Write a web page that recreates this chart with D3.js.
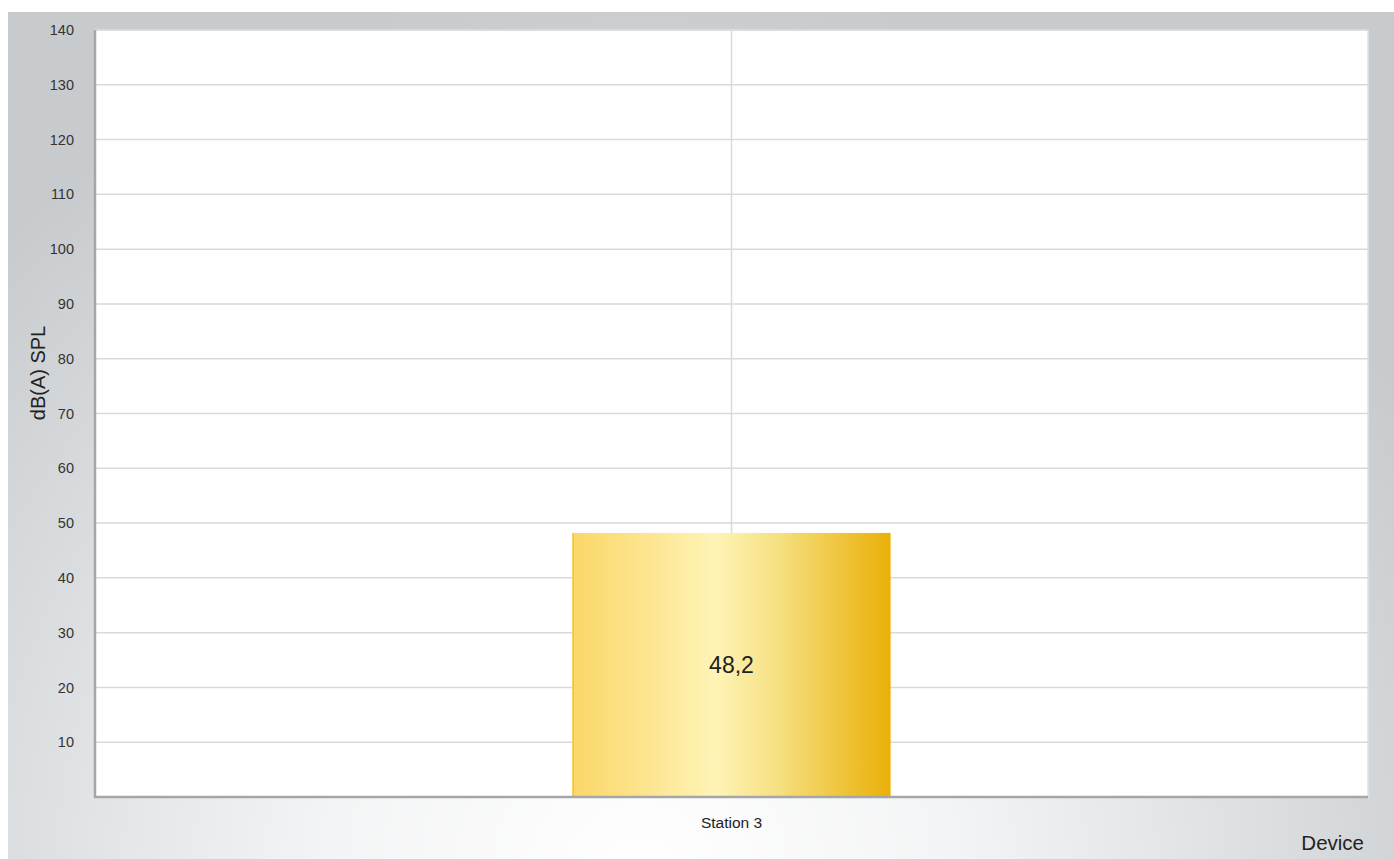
<!DOCTYPE html>
<html><head><meta charset="utf-8">
<script src="https://cdn.jsdelivr.net/npm/d3@7"></script>
<style>html,body{margin:0;padding:0;background:#fff;}svg{display:block;font-family:"Liberation Sans",Arial,sans-serif;}</style>
</head><body><svg id="c" width="1394" height="859"></svg>
<script>
const categories = ["Station 3"];
const values = [48.2];
const yTicks = [10,20,30,40,50,60,70,80,90,100,110,120,130,140];
const yTitle = "dB(A) SPL";
const xTitle = "Device";

const svg = d3.select("#c");
const defs = svg.append("defs");
const bg = defs.append("radialGradient").attr("id","bg").attr("gradientUnits","userSpaceOnUse")
  .attr("cx",640).attr("cy",880).attr("r",900).attr("fx",640).attr("fy",880);
bg.append("stop").attr("offset","0").attr("stop-color","#ffffff");
bg.append("stop").attr("offset","0.35").attr("stop-color","#f3f4f5");
bg.append("stop").attr("offset","0.75").attr("stop-color","#d8dbdd");
bg.append("stop").attr("offset","1").attr("stop-color","#c8cbce");
const bar = defs.append("linearGradient").attr("id","bar").attr("x1","0").attr("x2","1").attr("y1","0").attr("y2","0");
[[0,"#fbd768"],[0.2,"#fce28a"],[0.45,"#fef4b6"],[0.65,"#f5df80"],[0.85,"#efc43a"],[1,"#e9b008"]]
  .forEach(([o,c])=>bar.append("stop").attr("offset",o).attr("stop-color",c));

svg.append("rect").attr("x",8).attr("y",12).attr("width",1386).attr("height",847).attr("fill","url(#bg)");

const L=95, R=1368, T=30, B=797;
const y = d3.scaleLinear().domain([0,140]).range([B,T]);
const x = d3.scaleBand().domain(categories).range([L,R]).paddingInner(0).paddingOuter(1.5);

svg.append("rect").attr("x",L).attr("y",T).attr("width",R-L).attr("height",B-T)
  .attr("fill","#ffffff").attr("stroke","#e2e2e2").attr("stroke-width",1.5);

// horizontal gridlines
svg.append("g").selectAll("line").data(yTicks).join("line")
  .attr("x1",L).attr("x2",R).attr("y1",d=>y(d)).attr("y2",d=>y(d))
  .attr("stroke","#d9d9d9").attr("stroke-width",1.5);
// category gridline
svg.append("g").selectAll("line").data(categories).join("line")
  .attr("x1",d=>x(d)+x.bandwidth()/2).attr("x2",d=>x(d)+x.bandwidth()/2)
  .attr("y1",T).attr("y2",B).attr("stroke","#d9d9d9").attr("stroke-width",1.5);

// y axis
const yAxis = svg.append("g").attr("transform",`translate(${L},0)`)
  .call(d3.axisLeft(y).tickValues(yTicks).tickSize(0).tickPadding(21));
yAxis.select(".domain").remove();
yAxis.selectAll("text").attr("font-size",14.5).attr("fill","#333").attr("font-family","Liberation Sans, Arial, sans-serif");

// bars
const g = svg.append("g");
g.selectAll("rect").data(values).join("rect")
  .attr("x",(d,i)=>x(categories[i])).attr("width",x.bandwidth())
  .attr("y",d=>y(d)).attr("height",d=>B-y(d))
  .attr("fill","url(#bar)");
g.selectAll("line.edge").data(values).join("line").attr("class","edge")
  .attr("x1",(d,i)=>x(categories[i])+0.75).attr("x2",(d,i)=>x(categories[i])+0.75)
  .attr("y1",d=>y(d)).attr("y2",B).attr("stroke","#f2c43a").attr("stroke-width",1.5);
g.selectAll("text").data(values).join("text")
  .attr("x",(d,i)=>x(categories[i])+x.bandwidth()/2)
  .attr("y",d=>(y(d)+B)/2).attr("dy","0.33em")
  .attr("text-anchor","middle").attr("font-size",23).attr("fill","#222")
  .text(d=>d3.format(".1f")(d).replace(".",","));

// axis lines
svg.append("line").attr("x1",L).attr("x2",L).attr("y1",T).attr("y2",B+1)
  .attr("stroke","#a6a6a6").attr("stroke-width",2.5);
svg.append("line").attr("x1",L-1).attr("x2",R).attr("y1",B).attr("y2",B)
  .attr("stroke","#a6a6a6").attr("stroke-width",2.5);

// x axis labels
const xAxis = svg.append("g").attr("transform",`translate(0,${B})`)
  .call(d3.axisBottom(x).tickSize(0).tickPadding(20));
xAxis.select(".domain").remove();
xAxis.selectAll("text").attr("font-size",15.5).attr("fill","#222").attr("font-family","Liberation Sans, Arial, sans-serif");

// titles
svg.append("text").attr("transform","translate(45,373) rotate(-90)")
  .attr("text-anchor","middle").attr("font-size",20).attr("fill","#222").text(yTitle);
svg.append("text").attr("x",1364).attr("y",850).attr("text-anchor","end")
  .attr("font-size",20.5).attr("fill","#222").text(xTitle);
</script></body></html>
